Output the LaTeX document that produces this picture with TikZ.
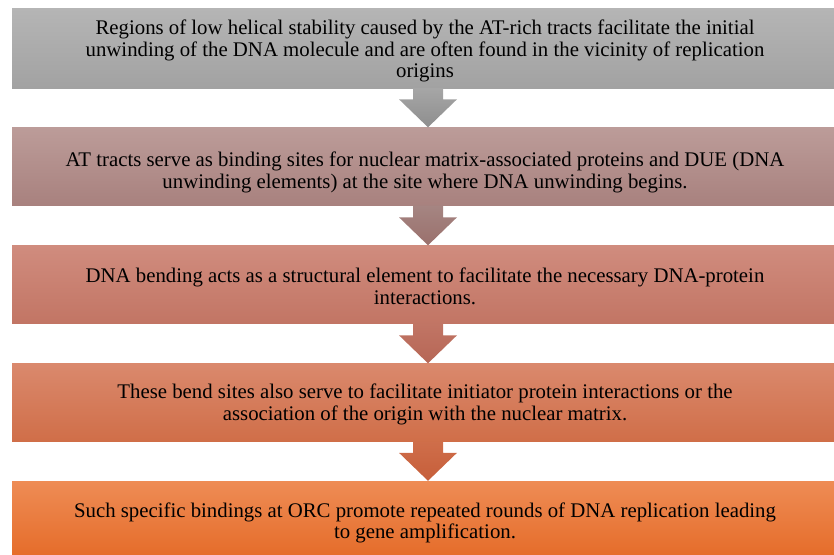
\documentclass[tikz,border=0pt]{standalone}
\usepackage{fontspec}
\setmainfont{Liberation Serif}
\usetikzlibrary{calc}
\definecolor{aT}{HTML}{B5B5B5}\definecolor{aB}{HTML}{A2A2A2}
\definecolor{bT}{HTML}{BC9C99}\definecolor{bB}{HTML}{A8817E}
\definecolor{cT}{HTML}{D08C7E}\definecolor{cB}{HTML}{C27564}
\definecolor{dT}{HTML}{DA896D}\definecolor{dB}{HTML}{D06E48}
\definecolor{eT}{HTML}{EE8C55}\definecolor{eB}{HTML}{E56B28}
\definecolor{pT}{HTML}{A6A6A6}\definecolor{pB}{HTML}{8E8E8E}
\definecolor{qT}{HTML}{A58582}\definecolor{qB}{HTML}{9A706C}
\definecolor{rT}{HTML}{C17565}\definecolor{rB}{HTML}{B66655}
\definecolor{sT}{HTML}{CF6E4A}\definecolor{sB}{HTML}{C65E3A}
\tikzset{
  box/.style={minimum width=822pt, minimum height=78pt, inner sep=0pt},
  txt/.style={inner sep=0pt, align=center, font=\fontsize{20.8}{21.8}\selectfont, text=black},
}
\newcommand\blockarr[4]{%
  \shade[top color=#3, bottom color=#4]
    ($(#1.south)+(-10pt,0)$) -- ($(#2.north)+(-10pt,28pt)$) -- ($(#2.north)+(-24pt,28pt)$)
    -- ($(#2.north)+(5pt,0)$) -- ($(#2.north)+(34pt,28pt)$) -- ($(#2.north)+(20pt,28pt)$)
    -- ($(#1.south)+(20pt,0)$) -- cycle;}
\begin{document}
\begin{tikzpicture}[x=1pt,y=1pt]
\useasboundingbox (0,0) rectangle (834,-554);
\node[box, minimum height=80pt, top color=aT, bottom color=aB] (b1) at (423,-48) {};
\node[box, top color=bT, bottom color=bB] (b2) at (423,-166.5) {};
\node[box, top color=cT, bottom color=cB] (b3) at (423,-284.5) {};
\node[box, top color=dT, bottom color=dB] (b4) at (423,-402.5) {};
\node[box, top color=eT, bottom color=eB] (b5) at (423,-520) {};
\node[txt] (t1) at ([xshift=2pt,yshift=-3pt]b1.center)
  {Regions of low helical stability caused by the AT-rich tracts facilitate the initial\\
   unwinding of the DNA molecule and are often found in the vicinity of replication\\
   origins};
\node[txt] (t2) at ([xshift=2pt,yshift=-6pt]b2.center)
  {AT tracts serve as binding sites for nuclear matrix-associated proteins and DUE (DNA\\
   unwinding elements) at the site where DNA unwinding begins.};
\node[txt] (t3) at ([xshift=2pt,yshift=-1.5pt]b3.center)
  {DNA bending acts as a structural element to facilitate the necessary DNA-protein\\
   interactions.};
\node[txt] (t4) at ([xshift=2pt,yshift=-2pt]b4.center)
  {These bend sites also serve to facilitate initiator protein interactions or the\\
   association of the origin with the nuclear matrix.};
\node[txt] (t5) at ([xshift=2pt,yshift=-3pt]b5.center)
  {Such specific bindings at ORC promote repeated rounds of DNA replication leading\\
   to gene amplification.};
\blockarr{b1}{b2}{pT}{pB}
\blockarr{b2}{b3}{qT}{qB}
\blockarr{b3}{b4}{rT}{rB}
\blockarr{b4}{b5}{sT}{sB}
\end{tikzpicture}
\end{document}
